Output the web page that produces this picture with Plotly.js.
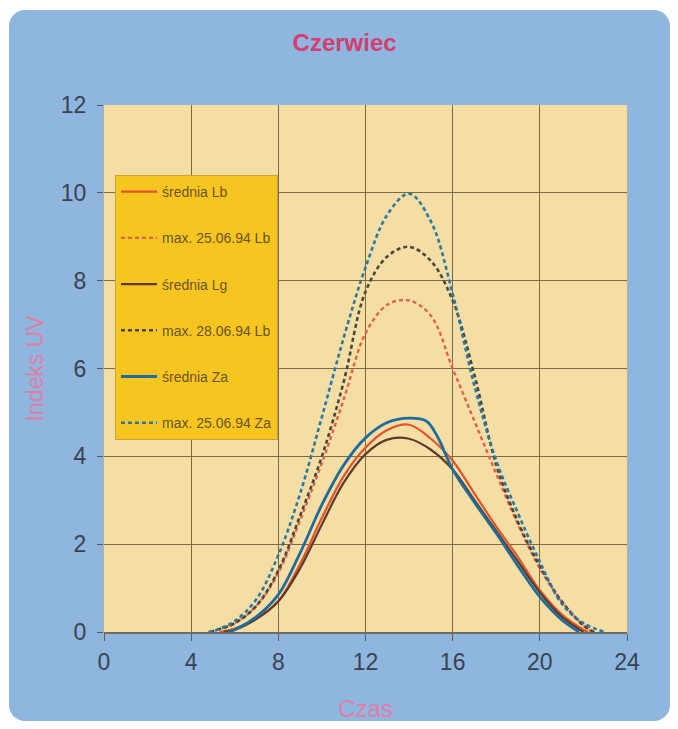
<!DOCTYPE html>
<html>
<head>
<meta charset="utf-8">
<script src="https://cdn.plot.ly/plotly-3.0.1.min.js"></script>
<style>
  html, body { margin: 0; padding: 0; background: #ffffff; }
  #panel { position: absolute; left: 9px; top: 10px; width: 661px; height: 711px;
           background: #8eb6de; border-radius: 16px; }
  #chart { position: absolute; left: 0; top: 0; width: 678px; height: 729px; }
</style>
</head>
<body>
<div id="panel"></div>
<div id="chart"></div>
<script>
// Hours (Czas) and UV index values
const xLbMean = [5.3, 6, 7, 8, 9, 10, 11, 12, 13, 14, 15, 16, 17, 18, 19, 20, 21, 22, 22.2];
const yLbMean = [0, 0.08, 0.3, 0.7, 1.55, 2.6, 3.55, 4.2, 4.6, 4.72, 4.4, 3.9, 3.15, 2.4, 1.7, 0.95, 0.4, 0.05, 0];

const xLbMax = [4.8, 5, 6, 7, 8, 9, 10, 11, 12, 13, 14, 15, 16, 17, 18, 19, 20, 21, 22, 22.4];
const yLbMax = [0, 0.02, 0.2, 0.6, 1.35, 2.55, 3.85, 5.3, 6.8, 7.45, 7.55, 7.2, 6.0, 4.8, 3.6, 2.45, 1.45, 0.7, 0.15, 0];

const xLgMean = [5.5, 6, 7, 8, 9, 10, 11, 12, 13, 14, 15, 16, 17, 18, 19, 20, 21, 22];
const yLgMean = [0, 0.05, 0.3, 0.7, 1.45, 2.45, 3.4, 4.05, 4.38, 4.4, 4.15, 3.7, 3.0, 2.3, 1.6, 0.9, 0.35, 0];

const xLbMax2 = [4.9, 5, 6, 7, 8, 9, 10, 11, 12, 13, 14, 15, 16, 17, 18, 19, 20, 21, 22, 22.5];
const yLbMax2 = [0, 0.02, 0.2, 0.6, 1.4, 2.65, 4.0, 5.7, 7.75, 8.55, 8.77, 8.45, 7.55, 5.85, 3.8, 2.5, 1.5, 0.7, 0.15, 0];

const xZaMean = [5.7, 6, 7, 8, 9, 10, 11, 12, 13, 14, 14.8, 15.3, 16, 17, 18, 19, 20, 21, 21.8];
const yZaMean = [0, 0.05, 0.35, 0.85, 1.8, 2.9, 3.8, 4.42, 4.77, 4.87, 4.8, 4.45, 3.7, 2.95, 2.25, 1.5, 0.8, 0.28, 0];

const xZaMax = [4.8, 5, 6, 7, 8, 9, 10, 11, 12, 13, 14, 15, 16, 17, 18, 19, 20, 21, 22, 23];
const yZaMax = [0, 0.02, 0.25, 0.75, 1.75, 3.15, 4.9, 6.7, 8.3, 9.5, 9.98, 9.35, 7.7, 5.6, 3.9, 2.7, 1.6, 0.65, 0.2, 0];

const seriesNames = ['średnia Lb', 'max. 25.06.94 Lb', 'średnia Lg', 'max. 28.06.94 Lb', 'średnia Za', 'max. 25.06.94 Za'];
const xTicks = [0, 4, 8, 12, 16, 20, 24];
const yTicks = [0, 2, 4, 6, 8, 10, 12];

const DASH = '4px,3px';
function tr(x, y, name, color, dash, width, group) {
  return {
    x: x, y: y, name: name, type: 'scatter', mode: 'lines',
    line: { color: color, width: width, dash: dash, shape: 'spline', smoothing: 1 },
    legendgroup: group, hoverinfo: 'skip'
  };
}

const data = [
  tr(xLbMean, yLbMean, seriesNames[0], '#e2522c', 'solid', 2.2, 'a'),
  tr(xLbMax, yLbMax, seriesNames[1], '#e2604e', DASH, 2.4, 'b'),
  tr(xLgMean, yLgMean, seriesNames[2], '#5c3b2a', 'solid', 2.2, 'c'),
  tr(xLbMax2, yLbMax2, seriesNames[3], '#4a4640', DASH, 2.6, 'd'),
  tr(xZaMean, yZaMean, seriesNames[4], '#1e6d9c', 'solid', 2.8, 'e'),
  tr(xZaMax, yZaMax, seriesNames[5], '#2a78a6', DASH, 2.6, 'f')
];

const FONT = 'Liberation Sans, Arial, sans-serif';
const tickFont = { family: FONT, size: 23, color: '#3a4252' };

const layout = {
  width: 678, height: 729,
  paper_bgcolor: 'rgba(0,0,0,0)',
  plot_bgcolor: '#f5dea4',
  margin: { l: 104, r: 51, t: 105, b: 97 },
  showlegend: true,
  title: {
    text: 'Czerwiec',
    font: { family: FONT, size: 24, color: '#d43d6e', weight: 'bold' },
    xref: 'paper', x: 0.46, xanchor: 'center', yref: 'container', y: 0.942, yanchor: 'middle'
  },
  xaxis: {
    range: [0, 24], tickvals: xTicks, ticktext: xTicks.map(String),
    showgrid: true, gridcolor: '#7d6a45', gridwidth: 1.3,
    zeroline: false, showline: true, linecolor: '#6e6a5e', linewidth: 1.5, mirror: false,
    ticks: 'outside', ticklen: 7, tickcolor: '#5a5a5a', tickwidth: 1,
    ticklabelstandoff: 2,
    tickfont: tickFont,
    title: { text: 'Czas', font: { family: FONT, size: 24, color: '#e07fa6' }, standoff: 26 },
    fixedrange: true
  },
  yaxis: {
    range: [0, 12], tickvals: yTicks, ticktext: yTicks.map(String),
    showgrid: true, gridcolor: '#7d6a45', gridwidth: 1.3,
    zeroline: false, showline: false,
    ticks: 'outside', ticklen: 6, tickcolor: '#5a5a5a', tickwidth: 1,
    ticklabelstandoff: 6,
    tickfont: tickFont,
    title: { text: 'Indeks UV', font: { family: FONT, size: 23, color: '#e07fa6' }, standoff: 10 },
    fixedrange: true
  },
  legend: {
    x: 0.021, y: 0.867, xanchor: 'left', yanchor: 'top',
    bgcolor: '#f7c51f', bordercolor: '#c9a33a', borderwidth: 1,
    font: { family: FONT, size: 14, color: '#6b5322' },
    tracegroupgap: 25, traceorder: 'grouped', itemwidth: 36,
    itemclick: false, itemdoubleclick: false
  }
};

Plotly.newPlot('chart', data, layout, { staticPlot: true, displayModeBar: false });
</script>
</body>
</html>
